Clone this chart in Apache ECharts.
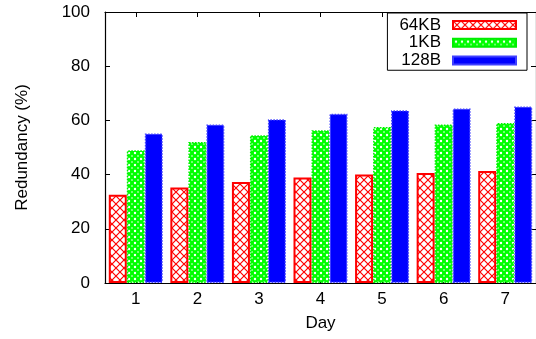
<!DOCTYPE html>
<html>
<head>
<meta charset="utf-8">
<script src="https://cdn.jsdelivr.net/npm/echarts@6/dist/echarts.min.js"></script>
<style>
    html, body { margin: 0; padding: 0; background: #fff; }
    #chart { width: 536px; height: 339px; }
</style>
</head>
<body>
<div id="chart"></div>
<script>
const days = ['1', '2', '3', '4', '5', '6', '7'];
const seriesNames = ['64KB', '1KB', '128B'];
const kb64 = [32.6, 35.2, 37.3, 38.9, 40.0, 40.6, 41.3];
const kb1 = [49.0, 52.0, 54.5, 56.4, 57.6, 58.5, 59.0];
const b128 = [55.2, 58.5, 60.4, 62.5, 63.7, 64.4, 65.1];
const yTicks = [0, 20, 40, 60, 80, 100];

const font = 'Liberation Sans, Arial, sans-serif';
const fs = 17;

// gnuplot-ish fill patterns
function crossTile() {
    const c = document.createElement('canvas');
    c.width = 8; c.height = 8;
    const ctx = c.getContext('2d');
    ctx.fillStyle = '#fff';
    ctx.fillRect(0, 0, 8, 8);
    ctx.strokeStyle = '#ff0000';
    ctx.lineWidth = 1.2;
    ctx.beginPath();
    ctx.moveTo(0, 0); ctx.lineTo(8, 8);
    ctx.moveTo(8, 0); ctx.lineTo(0, 8);
    ctx.stroke();
    return c;
}
function meshTile() {
    const c = document.createElement('canvas');
    c.width = 6; c.height = 6;
    const ctx = c.getContext('2d');
    ctx.fillStyle = '#00ff00';
    ctx.fillRect(0, 0, 6, 6);
    ctx.fillStyle = '#fff';
    ctx.beginPath();
    ctx.arc(3, 3, 1.2, 0, Math.PI * 2);
    ctx.fill();
    [[0, 0], [6, 0], [0, 6], [6, 6]].forEach(p => {
        ctx.beginPath();
        ctx.arc(p[0], p[1], 0.8, 0, Math.PI * 2);
        ctx.fill();
    });
    return c;
}

const fills = [
    {color: {image: crossTile(), repeat: 'repeat'}, borderColor: '#ff0000', borderWidth: 2, borderType: 'solid'},
    {color: {image: meshTile(), repeat: 'repeat'}, borderColor: '#00ee00', borderWidth: 1.5, borderType: 'dotted'},
    {color: '#0000ff', borderColor: '#4040ff', borderWidth: 1.5, borderType: 'dotted'}
];
const values = [kb64, kb1, b128];

const myChart = echarts.init(document.getElementById('chart'));

const tickStyle = {show: true, inside: true, length: 5, lineStyle: {color: '#000', width: 1}};
const lineStyle = {show: true, onZero: false, lineStyle: {color: '#000', width: 1.2}};

const option = {
    animation: false,
    backgroundColor: '#fff',
    textStyle: {fontFamily: font},
    grid: {left: 105, right: -3, top: 12, bottom: 56},
    legend: {
        orient: 'vertical',
        align: 'right',
        right: 9,
        top: 13,
        padding: [3, 10, 1, 12],
        itemWidth: 63,
        itemHeight: 8,
        itemGap: 0,
        backgroundColor: '#fff',
        borderColor: '#000',
        borderWidth: 1,
        borderRadius: 0,
        icon: 'rect',
        data: seriesNames,
        textStyle: {fontSize: fs, color: '#000', fontFamily: font, lineHeight: 17.75, padding: [0, 7, 0, 0]}
    },
    xAxis: [
        {
            type: 'category',
            data: days,
            position: 'bottom',
            name: 'Day',
            nameLocation: 'middle',
            nameGap: 32,
            nameTextStyle: {fontSize: fs, color: '#000', fontFamily: font},
            axisLine: lineStyle,
            axisTick: Object.assign({alignWithLabel: true}, tickStyle),
            axisLabel: {fontSize: fs, color: '#000', margin: 8, fontFamily: font}
        },
        {
            type: 'category',
            data: days,
            position: 'top',
            axisLine: lineStyle,
            axisTick: Object.assign({alignWithLabel: true}, tickStyle),
            axisLabel: {show: false}
        }
    ],
    yAxis: [
        {
            type: 'value',
            min: yTicks[0],
            max: yTicks[yTicks.length - 1],
            interval: 20,
            position: 'left',
            name: 'Redundancy (%)',
            nameLocation: 'middle',
            nameGap: 74,
            nameTextStyle: {fontSize: fs, color: '#000', fontFamily: font},
            axisLine: lineStyle,
            axisTick: tickStyle,
            splitLine: {show: false},
            axisLabel: {fontSize: fs, color: '#000', margin: 15, fontFamily: font}
        },
        {
            type: 'value',
            min: yTicks[0],
            max: yTicks[yTicks.length - 1],
            interval: 20,
            position: 'right',
            axisLine: lineStyle,
            axisTick: tickStyle,
            splitLine: {show: false},
            axisLabel: {show: false}
        }
    ],
    series: seriesNames.map((name, i) => ({
        name: name,
        type: 'bar',
        xAxisIndex: 0,
        yAxisIndex: 0,
        barWidth: 18,
        barGap: '0%',
        itemStyle: fills[i],
        data: values[i]
    }))
};

myChart.setOption(option);
</script>
</body>
</html>
